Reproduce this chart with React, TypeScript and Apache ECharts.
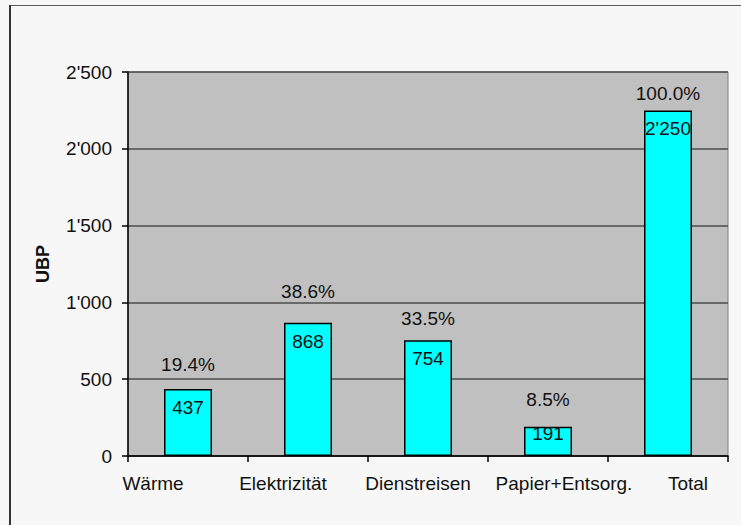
import React, { useEffect, useRef } from "react";
import * as echarts from "echarts";

const categories = ["Wärme", "Elektrizität", "Dienstreisen", "Papier+Entsorg.", "Total"];
const values = [437, 868, 754, 191, 2250];
const percents = [19.4, 38.6, 33.5, 8.5, 100.0];
const yTicks = { min: 0, max: 2500, interval: 500 };
const yName = "UBP";

const fmt = (v: number) => String(Math.round(v)).replace(/\B(?=(\d{3})+(?!\d))/g, "'");

// label placement styles (per category)
const pctDistance = [15, 22, 12, 18, 7];
const valDistance = [9, 9, 9, -3, 9];
const catShift = [-35, -25, -10, 16, 20];

export default function App() {
  const ref = useRef<HTMLDivElement>(null);
  useEffect(() => {
    if (!ref.current) return;
    const chart = echarts.init(ref.current, null, { renderer: "svg" });
    const font = "'Liberation Sans', Arial, sans-serif";
    const fs = 19;
    const rich: any = {};
    catShift.forEach((s, i) => {
      rich["c" + i] = {
        fontFamily: font,
        fontSize: fs,
        color: "#111",
        padding: s < 0 ? [0, -2 * s, 0, 0] : [0, 0, 0, 2 * s],
      };
    });
    chart.setOption({
      animation: false,
      backgroundColor: "#F6F7F6",
      textStyle: { fontFamily: font },
      grid: {
        left: 128,
        top: 72,
        width: 600,
        height: 384,
        show: true,
        backgroundColor: "#C0C0C0",
        borderColor: "#808080",
        borderWidth: 1,
      },
      graphic: [
        { type: "line", shape: { x1: 9, y1: 5.5, x2: 741, y2: 5.5 }, style: { stroke: "#5a5a5a", lineWidth: 1 } },
        { type: "line", shape: { x1: 10, y1: 5, x2: 10, y2: 525 }, style: { stroke: "#333", lineWidth: 2 } },
      ],
      xAxis: {
        type: "category",
        data: categories,
        axisLine: { lineStyle: { color: "#000", width: 1.5 } },
        axisTick: { show: true, length: 6, lineStyle: { color: "#000", width: 1.5 } },
        axisLabel: {
          margin: 18,
          interval: 0,
          formatter: (v: string) => {
            const i = categories.indexOf(v);
            return "{c" + i + "|" + v + "}";
          },
          rich,
        },
      },
      yAxis: {
        type: "value",
        min: yTicks.min,
        max: yTicks.max,
        interval: yTicks.interval,
        name: yName,
        nameLocation: "middle",
        nameGap: 76,
        nameTextStyle: { fontFamily: font, fontSize: 18, fontWeight: "bold", color: "#111" },
        axisLine: { show: true, lineStyle: { color: "#000", width: 1.5 } },
        axisTick: { show: true, length: 6, lineStyle: { color: "#000", width: 1.5 } },
        axisLabel: { margin: 16, fontFamily: font, fontSize: fs, color: "#111", formatter: (v: number) => fmt(v) },
        splitLine: { show: true, lineStyle: { color: "#4d4d4d", width: 1.5 } },
      },
      series: [
        {
          type: "bar",
          barWidth: 48,
          barGap: "-100%",
          silent: true,
          itemStyle: { color: "rgba(0,0,0,0)" },
          label: {
            show: true,
            position: "top",
            fontFamily: font,
            fontSize: fs,
            color: "#111",
            formatter: (p: any) => percents[p.dataIndex].toFixed(1) + "%",
          },
          data: values.map((v, i) => ({ value: v, label: { distance: pctDistance[i] } })),
          z: 1,
        },
        {
          type: "bar",
          barWidth: 48,
          barGap: "-100%",
          itemStyle: { color: "#00FFFF", borderColor: "#000", borderWidth: 1.5 },
          label: {
            show: true,
            position: "insideTop",
            fontFamily: font,
            fontSize: fs,
            color: "#111",
            formatter: (p: any) => fmt(p.value),
          },
          data: values.map((v, i) => ({ value: v, label: { distance: valDistance[i] } })),
          z: 2,
        },
      ],
    });
    return () => chart.dispose();
  }, []);
  return (
    <div
      ref={ref}
      style={{ position: "fixed", left: 0, top: 0, width: 741, height: 525 }}
    />
  );
}
